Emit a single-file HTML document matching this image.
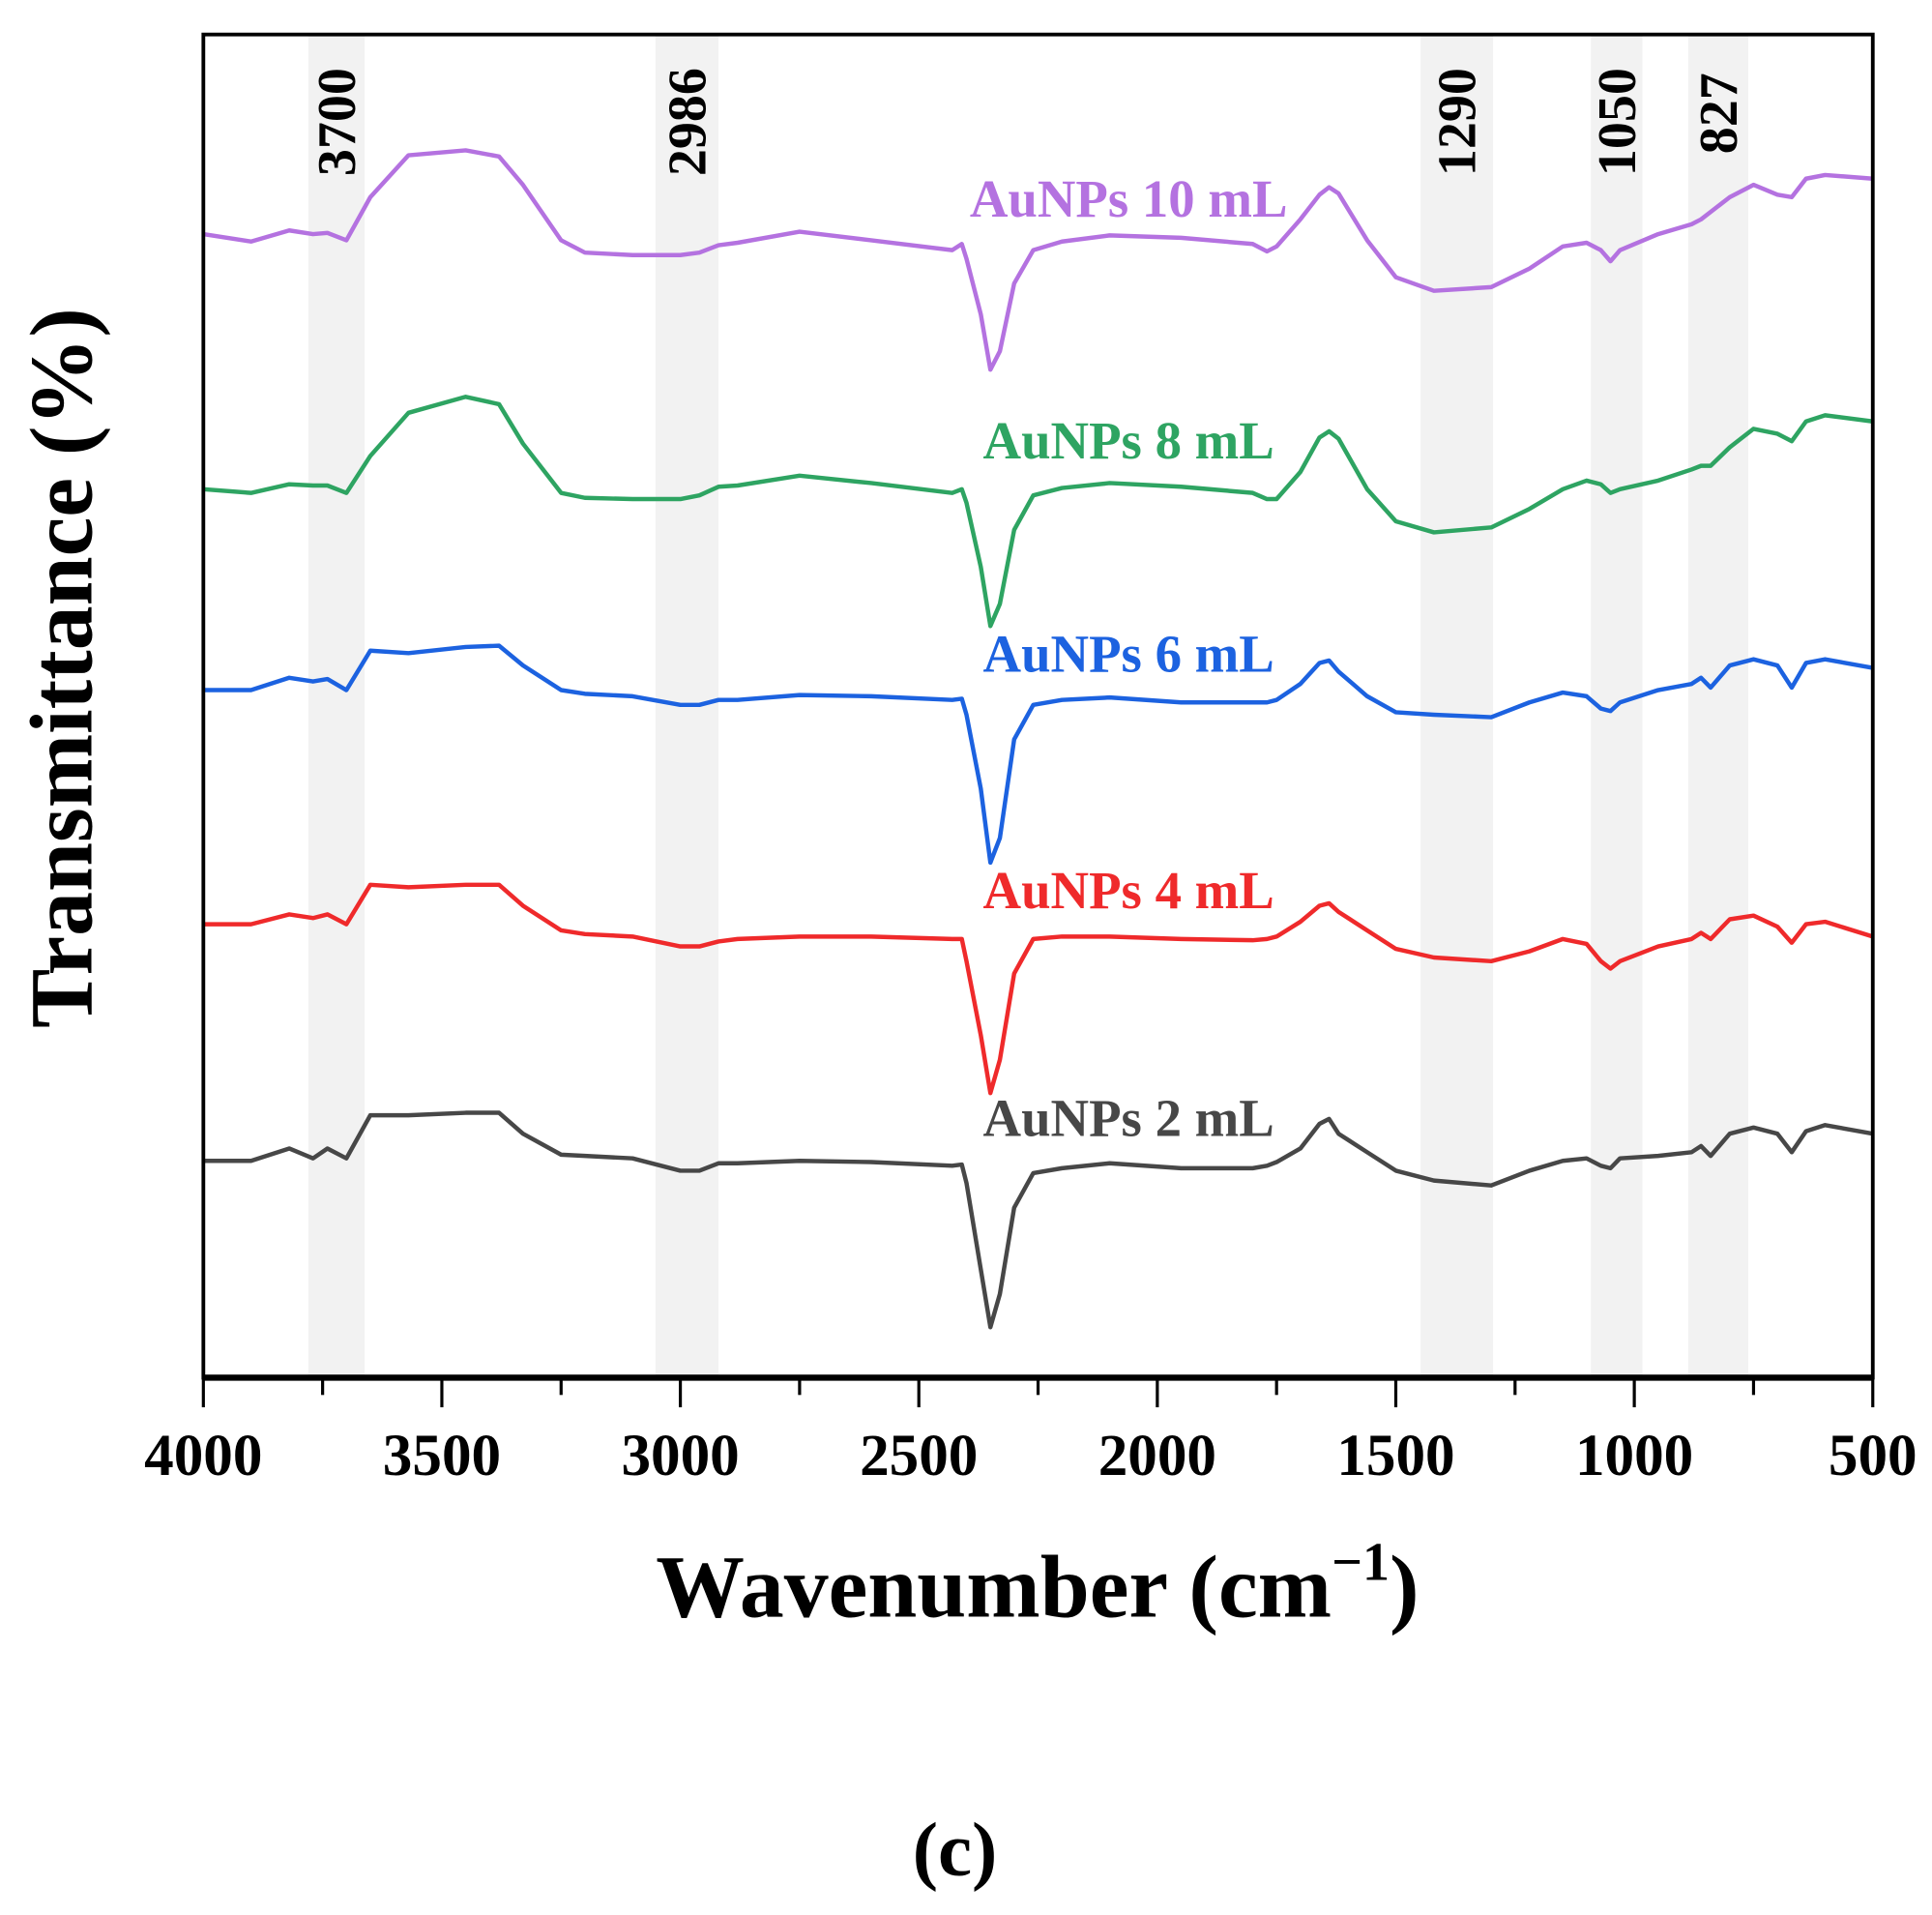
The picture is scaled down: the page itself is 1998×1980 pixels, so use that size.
<!DOCTYPE html>
<html><head><meta charset="utf-8"><style>
html,body{margin:0;padding:0;background:#fff;}
svg{display:block;}
text{font-family:"Liberation Serif",serif;font-weight:bold;}
</style></head><body>
<svg id="chart" width="1998" height="1980" viewBox="0 0 1568 1554" xmlns="http://www.w3.org/2000/svg">
<g id="bands"></g>
<g id="series"></g>
<g id="axes"></g>
<text x="842" y="1312" font-size="72" text-anchor="middle">Wavenumber (cm<tspan font-size="44" dy="-30">−1</tspan><tspan dy="30">)</tspan></text>
<text transform="translate(74,542) rotate(-90)" font-size="72" text-anchor="middle">Transmittance (%)</text>
<text x="775" y="1522" font-size="62" text-anchor="middle" font-weight="normal">(c)</text>
</svg>
<script>
const wavenumbers=[4000,3900,3820,3770,3740,3700,3650,3570,3450,3380,3330,3250,3200,3100,3000,2960,2920,2880,2750,2600,2430,2410,2400,2370,2350,2330,2300,2260,2200,2100,1950,1800,1770,1750,1700,1660,1640,1620,1560,1500,1420,1300,1220,1150,1100,1070,1050,1030,950,880,860,840,800,750,700,670,640,600,500];
const seriesNames=["AuNPs 10 mL","AuNPs 8 mL","AuNPs 6 mL","AuNPs 4 mL","AuNPs 2 mL"];
const s10=[190,196,187,190,189,195,160,126,122,127,150,195,205,207,207,205,199,197,188,195,203,198,210,255,300,285,230,203,196,191,193,198,204,200,178,158,152,157,195,225,236,233,218,200,197,203,212,203,190,182,178,172,160,150,158,160,145,142,145];
const s8=[397,400,393,394,394,400,370,335,322,328,360,400,404,405,405,402,395,394,386,392,400,397,408,460,508,490,430,402,396,392,395,400,405,405,383,355,350,356,397,423,432,428,413,397,390,393,400,397,390,381,378,378,363,348,352,358,342,337,342];
const s6=[560,560,550,553,551,560,528,530,525,524,540,560,563,565,572,572,568,568,564,565,568,567,580,640,700,680,600,572,568,566,570,570,570,568,555,538,536,545,565,578,580,582,570,562,565,575,577,570,560,555,550,558,540,535,540,558,538,535,542];
const s4=[750,750,742,745,742,750,718,720,718,718,735,755,758,760,768,768,764,762,760,760,762,762,780,840,887,860,790,762,760,760,762,763,762,760,748,735,733,740,755,770,777,780,772,762,766,780,786,780,768,762,757,762,746,743,752,765,750,748,760];
const s2=[942,942,932,940,932,940,905,905,903,903,920,937,938,940,950,950,944,944,942,943,946,945,960,1030,1077,1050,980,952,948,944,948,948,946,943,932,912,908,920,935,950,958,962,950,942,940,946,948,940,938,935,930,938,920,915,920,935,918,913,920];
const bandStarts=[3780,3052,1448,1091,887];
const bandEnds=[3662,2920,1296,983,761];
const bandLabels=["3700","2986","1290","1050","827"];
const xTicks=[4000,3500,3000,2500,2000,1500,1000,500];
const NS="http://www.w3.org/2000/svg";
const L=165,R=1520,T=28,B=1118;
function xScale(w){return L+(4000-w)/3500*(R-L);}
function yScale(v){return T+(v-28)*(B-T)/(1118-28);}
function mk(tag,attrs,parent){const e=document.createElementNS(NS,tag);for(const k in attrs)e.setAttribute(k,attrs[k]);parent.appendChild(e);return e;}
const bands=document.getElementById('bands');
for(let i=0;i<bandStarts.length;i++){
  const x1=xScale(bandStarts[i]),x2=xScale(bandEnds[i]);
  const r=mk('rect',{x:x1,y:T,width:x2-x1,height:B-T,fill:'#f2f2f2'},bands);
  
  
  const cx=(x1+x2)/2;
  const t=mk('text',{transform:`translate(${cx+15},${bandLabels[i].length>3?99:92}) rotate(-90)`,'font-size':'44','text-anchor':'middle',fill:'#000'},bands);
  t.textContent=bandLabels[i];
  
  
}
const colors=['#b472e0','#2ea462','#1c62e0','#ef2a2b','#474747'];
const data=[s10,s8,s6,s4,s2];
const labelY=[176,372,545,737,922];
const sg=document.getElementById('series');
data.forEach((arr,i)=>{
  const d=arr.map((v,j)=>(j?'L':'M')+xScale(wavenumbers[j]).toFixed(1)+','+yScale(v).toFixed(1)).join(' ');
  const p=mk('path',{d:d,fill:'none',stroke:colors[i],'stroke-width':'3.5','stroke-linejoin':'round'},sg);
  
  
  const t=mk('text',{x:916,y:labelY[i],'font-size':'43','text-anchor':'middle',fill:colors[i]},sg);
  t.textContent=seriesNames[i];
  
  
});
const ax=document.getElementById('axes');
const fr=mk('rect',{x:L,y:T,width:R-L,height:B-T,fill:'none',stroke:'#000','stroke-width':'3'},ax);


const xl=mk('line',{x1:L,x2:R,y1:B,y2:B,stroke:'#000','stroke-width':'5'},ax);


for(let w=4000;w>=500;w-=250){
  const major=w%500===0;
  const tk=mk('line',{x1:xScale(w),x2:xScale(w),y1:B,y2:B+(major?24:14),stroke:'#000','stroke-width':'2.5'},ax);
  
  
}
xTicks.forEach(w=>{
  const t=mk('text',{x:xScale(w),y:1197,'font-size':'48','text-anchor':'middle'},ax);
  t.textContent=w;
  
  
});
</script>
</body></html>
